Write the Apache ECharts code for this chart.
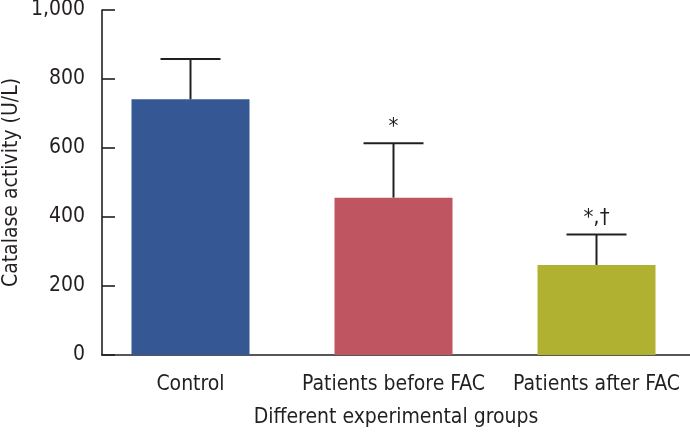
<!DOCTYPE html>
<html><head><meta charset="utf-8">
<script src="https://cdn.jsdelivr.net/npm/echarts@6/dist/echarts.min.js"></script>
<style>html,body{margin:0;padding:0;background:#fff}#c{width:690px;height:437px}</style>
</head><body><div id="c"></div>
<script>
const categories = ['Control', 'Patients before FAC', 'Patients after FAC'];
const means = [741, 456, 261];
const errorTops = [858, 614, 349];
const sigLabels = ['', '*', '*,\u2020'];
const barColors = ['#355894', '#BE5561', '#B1B131'];
const yTicks = [0, 200, 400, 600, 800, 1000];

const FONT = "'DejaVu Sans Condensed', 'Liberation Sans Narrow', sans-serif";
const ink = '#231f20';
const chart = echarts.init(document.getElementById('c'));
chart.setOption({
  animation: false,
  grid: [
    {left: 89, width: 609, top: 10, bottom: 82, outerBoundsMode: 'none', containLabel: false},
    {left: 102, right: 0, top: 10, bottom: 82, outerBoundsMode: 'none', containLabel: false}
  ],
  xAxis: [
    {type: 'category', gridIndex: 0, data: categories,
     axisLine: {show: false}, axisTick: {show: false}, splitLine: {show: false},
     axisLabel: {color: ink, fontSize: 21, fontFamily: FONT, margin: 19, interval: 0}},
    {type: 'value', gridIndex: 1, min: 0, max: 1,
     axisLine: {show: true, lineStyle: {color: ink, width: 1.6}},
     axisTick: {show: false}, axisLabel: {show: false}, splitLine: {show: false},
     name: 'Different experimental groups', nameLocation: 'middle', nameGap: 52,
     nameMoveOverlap: false,
     nameTextStyle: {color: ink, fontSize: 21, fontFamily: FONT}}
  ],
  yAxis: [
    {type: 'value', gridIndex: 0, min: 0, max: 1000, interval: 200, show: false},
    {type: 'value', gridIndex: 1, min: 0, max: 1000, interval: 200,
     axisLine: {show: true, lineStyle: {color: ink, width: 1.6}},
     axisTick: {show: true, inside: true, length: 13, lineStyle: {color: ink, width: 1.6}},
     splitLine: {show: false},
     axisLabel: {color: ink, fontSize: 21, fontFamily: FONT, margin: 17,
       formatter: v => yTicks.includes(v) ? v.toLocaleString('en-US') : ''},
     name: 'Catalase activity (U/L)', nameLocation: 'middle', nameGap: 80,
     nameMoveOverlap: false,
     nameTextStyle: {color: ink, fontSize: 21, fontFamily: FONT}}
  ],
  series: [
    {type: 'bar', xAxisIndex: 0, yAxisIndex: 0, barWidth: 118,
     data: means.map((v, i) => ({value: v, itemStyle: {color: barColors[i]}}))},
    {type: 'custom', xAxisIndex: 0, yAxisIndex: 0, z: 1,
     data: means.map((m, i) => [i, m, errorTops[i]]),
     renderItem: (params, api) => {
       const base = api.coord([api.value(0), api.value(1)]);
       const top = api.coord([api.value(0), api.value(2)]);
       const hw = 30;
       const st = {stroke: ink, lineWidth: 2};
       return {type: 'group', children: [
         {type: 'line', shape: {x1: base[0], y1: base[1], x2: top[0], y2: top[1]}, style: st},
         {type: 'line', shape: {x1: top[0] - hw, y1: top[1], x2: top[0] + hw, y2: top[1]}, style: st},
         {type: 'text', style: {text: sigLabels[params.dataIndex], x: top[0], y: top[1] - 5,
           textAlign: 'center', textVerticalAlign: 'bottom', fill: ink, fontSize: 22, fontFamily: FONT}}
       ]};
     }}
  ]
});
</script></body></html>
